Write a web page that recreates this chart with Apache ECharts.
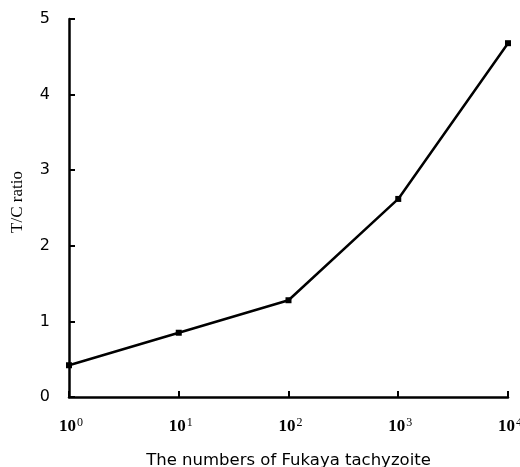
<!DOCTYPE html>
<html><head><meta charset="utf-8">
<script src="https://cdn.jsdelivr.net/npm/echarts@6/dist/echarts.min.js"></script>
<style>html,body{margin:0;padding:0;background:#fff}#c{width:520px;height:467px}</style>
</head><body><div id="c"></div>
<script>
const xValues = [1, 10, 100, 1000, 10000];
const tcRatio = [0.42, 0.85, 1.28, 2.62, 4.68];
const yTicks = [0, 1, 2, 3, 4, 5];
const xTitle = 'The numbers of Fukaya tachyzoite';
const yTitle = 'T/C ratio';

const chart = echarts.init(document.getElementById('c'));
const font = '"Liberation Serif", "DejaVu Serif", serif';
chart.setOption({
  animation: false,
  backgroundColor: '#fff',
  grid: { left: 69, right: 12, top: 19, bottom: 70, containLabel: false, outerBoundsMode: 'none' },
  xAxis: {
    type: 'log', logBase: 10, min: 1, max: 10000,
    axisLine: { lineStyle: { color: '#000', width: 2.5 } },
    axisTick: { inside: true, length: 6, lineStyle: { color: '#000', width: 2 } },
    splitLine: { show: false },
    minorTick: { show: false },
    axisLabel: {
      margin: 20, color: '#000',
      formatter: v => '{b|10}{s|' + Math.round(Math.log10(v)) + '}',
      rich: {
        b: { fontSize: 17, fontFamily: font, fontWeight: 'bold', color: '#000', padding: [0, 0, 0, 4] },
        s: { fontSize: 12, fontFamily: font, color: '#000', verticalAlign: 'top', padding: [0, 0, 8, 1] }
      }
    },
    name: xTitle, nameLocation: 'middle', nameGap: 55,
    nameTextStyle: { color: '#000', fontFamily: '"DejaVu Sans", sans-serif', fontSize: 16.5 }
  },
  yAxis: {
    type: 'value', min: 0, max: 5, interval: 1,
    axisLine: { show: true, lineStyle: { color: '#000', width: 2.5 } },
    axisTick: { show: true, inside: true, length: 6, lineStyle: { color: '#000', width: 2 } },
    splitLine: { show: false },
    axisLabel: { margin: 19, color: '#000', fontFamily: '"DejaVu Sans", sans-serif', fontSize: 16,
      formatter: v => yTicks.includes(v) ? String(v) : '' },
    name: yTitle, nameLocation: 'middle', nameGap: 43, nameRotate: 90,
    nameTextStyle: { color: '#000', fontFamily: font, fontSize: 17, padding: [0, 0, 0, 12] }
  },
  series: [{
    type: 'line',
    data: xValues.map((x, i) => [x, tcRatio[i]]),
    symbol: 'rect', symbolSize: 6,
    lineStyle: { color: '#000', width: 2.5 },
    itemStyle: { color: '#000' }
  }]
});
</script></body></html>
